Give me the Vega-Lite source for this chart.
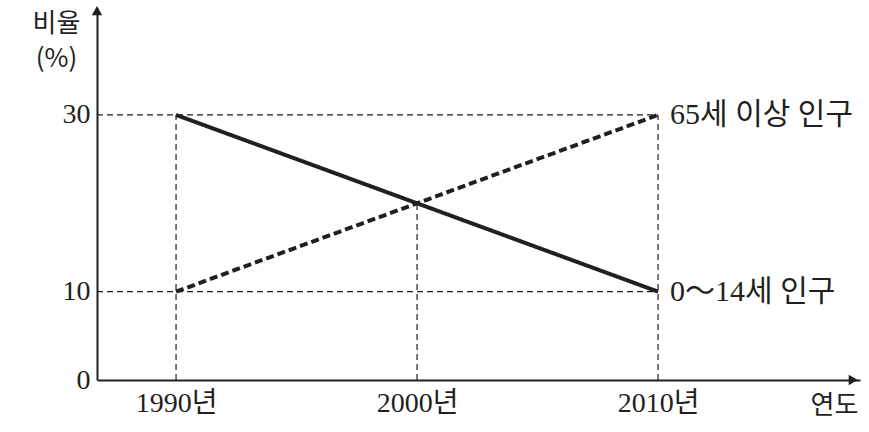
{
  "$schema": "https://vega.github.io/schema/vega-lite/v6.json",
  "width": 763,
  "height": 372,
  "autosize": {"type": "none"},
  "padding": {"left": 97, "top": 8, "right": 9, "bottom": 52},
  "background": "white",
  "config": {
    "view": {"stroke": null},
    "axis": {
      "domainColor": "#231f20",
      "domainWidth": 2,
      "ticks": false,
      "grid": false,
      "labelColor": "#231f20",
      "labelFont": "Liberation Serif, Noto Sans CJK KR",
      "labelFontSize": 28,
      "titleColor": "#231f20",
      "titleFont": "Noto Sans CJK KR",
      "titleFontSize": 26,
      "titleFontWeight": "normal"
    }
  },
  "datasets": {
    "guides": [
      {"x": 1986.72, "x2": 2010, "y": 30, "y2": 30},
      {"x": 1986.72, "x2": 2010, "y": 10, "y2": 10},
      {"x": 1990, "x2": 1990, "y": 0, "y2": 30},
      {"x": 2000, "x2": 2000, "y": 0, "y2": 20},
      {"x": 2010, "x2": 2010, "y": 0, "y2": 30}
    ],
    "lines": [
      {"series": "0～14세 인구", "year": 1990, "value": 30},
      {"series": "0～14세 인구", "year": 2010, "value": 10},
      {"series": "65세 이상 인구", "year": 1990, "value": 10},
      {"series": "65세 이상 인구", "year": 2010, "value": 30}
    ],
    "labels": [
      {"series": "65세 이상 인구", "year": 2010, "value": 30},
      {"series": "0～14세 인구", "year": 2010, "value": 10}
    ],
    "arrows": [
      {"x": 2018.1, "y": 0, "shape": "triangle-right"},
      {"x": 1986.72, "y": 41.8, "shape": "triangle-up"}
    ]
  },
  "layer": [
    {
      "data": {"name": "guides"},
      "mark": {"type": "rule", "strokeDash": [6, 4], "strokeWidth": 1.2, "color": "#231f20"},
      "encoding": {
        "x": {
          "field": "x", "type": "quantitative",
          "scale": {"domain": [1986.72, 2018.38], "nice": false, "zero": false},
          "axis": {
            "values": [1990, 2000, 2010],
            "labelExpr": "datum.value + '년'",
            "labelPadding": 9,
            "labelBaseline": "top",
            "title": "연도",
            "titleAngle": 0,
            "titleX": 737,
            "titleY": 12,
            "titleAlign": "center",
            "titleBaseline": "top"
          }
        },
        "x2": {"field": "x2"},
        "y": {
          "field": "y", "type": "quantitative",
          "scale": {"domain": [0, 42.1], "nice": false, "zero": true},
          "axis": {
            "values": [0, 10, 30],
            "labelPadding": 7,
            "title": ["비율", "(%)"],
            "titleAngle": 0,
            "titleAlign": "center",
            "titleBaseline": "top",
            "titleX": -41,
            "titleY": 2,
            "titleLineHeight": 35
          }
        },
        "y2": {"field": "y2"}
      }
    },
    {
      "data": {"name": "lines"},
      "mark": {"type": "line", "strokeWidth": 4, "color": "#231f20"},
      "encoding": {
        "x": {"field": "year", "type": "quantitative"},
        "y": {"field": "value", "type": "quantitative"},
        "detail": {"field": "series"},
        "strokeDash": {
          "field": "series", "type": "nominal",
          "scale": {"domain": ["0～14세 인구", "65세 이상 인구"], "range": [[1, 0], [8, 4]]},
          "legend": null
        }
      }
    },
    {
      "data": {"name": "labels"},
      "mark": {"type": "text", "align": "left", "baseline": "middle", "dx": 12, "font": "Liberation Serif, Noto Sans CJK KR", "fontSize": 30, "color": "#231f20"},
      "encoding": {
        "x": {"field": "year", "type": "quantitative"},
        "y": {"field": "value", "type": "quantitative"},
        "text": {"field": "series"}
      }
    },
    {
      "data": {"name": "arrows"},
      "mark": {"type": "point", "filled": true, "size": 110, "color": "#231f20", "opacity": 1},
      "encoding": {
        "x": {"field": "x", "type": "quantitative"},
        "y": {"field": "y", "type": "quantitative"},
        "shape": {"field": "shape", "type": "nominal", "scale": null}
      }
    }
  ]
}
